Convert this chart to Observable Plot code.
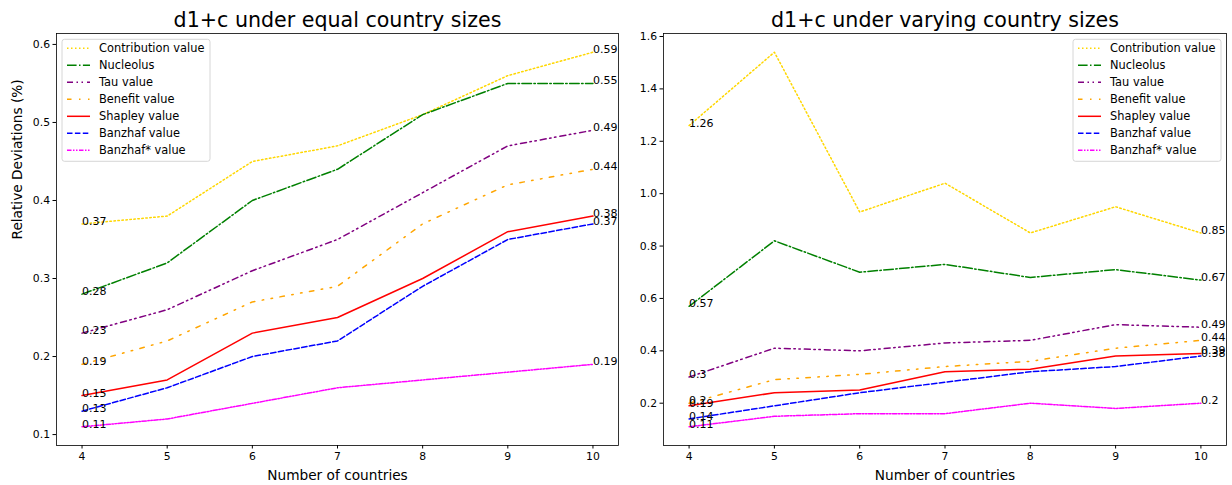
<!DOCTYPE html>
<html><head><meta charset="utf-8">
<script src="https://cdn.jsdelivr.net/npm/d3@7"></script>
<script src="https://cdn.jsdelivr.net/npm/@observablehq/plot@0.6"></script>
<style>
body{margin:0;background:#fff;}
#wrap{display:flex;width:1232px;height:485px;}
#wrap svg{font-family:"DejaVu Sans",sans-serif;display:block;}
</style></head><body><div id="wrap"></div>
<script>
const countries = [4, 5, 6, 7, 8, 9, 10];
const seriesNames = ["Contribution value", "Nucleolus", "Tau value", "Benefit value", "Shapley value", "Banzhaf value", "Banzhaf* value"];
const seriesColors = ["#FFD700", "green", "purple", "orange", "red", "blue", "magenta"];
const seriesDashes = ["1.5,2.5", "9.6,2.4,1.5,2.4", "6,3.5,1.5,3.5,1.5,4", "4.5,7.5,1.5,7.5,1.5,7.5", "none", "5.5,2.4", "4.5,1.5,1.5,1.5,1.5,1.5"];

// Panel 1: equal country sizes
const equalContribution = [0.37, 0.38, 0.45, 0.47, 0.51, 0.56, 0.59];
const equalNucleolus    = [0.28, 0.32, 0.40, 0.44, 0.51, 0.55, 0.55];
const equalTau          = [0.23, 0.26, 0.31, 0.35, 0.41, 0.47, 0.49];
const equalBenefit      = [0.19, 0.22, 0.27, 0.29, 0.37, 0.42, 0.44];
const equalShapley      = [0.15, 0.17, 0.23, 0.25, 0.30, 0.36, 0.38];
const equalBanzhaf      = [0.13, 0.16, 0.20, 0.22, 0.29, 0.35, 0.37];
const equalBanzhafStar  = [0.11, 0.12, 0.14, 0.16, 0.17, 0.18, 0.19];

// Panel 2: varying country sizes
const varyContribution = [1.26, 1.54, 0.93, 1.04, 0.85, 0.95, 0.85];
const varyNucleolus    = [0.57, 0.82, 0.70, 0.73, 0.68, 0.71, 0.67];
const varyTau          = [0.30, 0.41, 0.40, 0.43, 0.44, 0.50, 0.49];
const varyBenefit      = [0.20, 0.29, 0.31, 0.34, 0.36, 0.41, 0.44];
const varyShapley      = [0.19, 0.24, 0.25, 0.32, 0.33, 0.38, 0.39];
const varyBanzhaf      = [0.14, 0.19, 0.24, 0.28, 0.32, 0.34, 0.38];
const varyBanzhafStar  = [0.11, 0.15, 0.16, 0.16, 0.20, 0.18, 0.20];

const leftTicks = [0.1, 0.2, 0.3, 0.4, 0.5, 0.6];
const rightTicks = [0.2, 0.4, 0.6, 0.8, 1.0, 1.2, 1.4, 1.6];

const titleLeft = "d1+c under equal country sizes";
const titleRight = "d1+c under varying country sizes";
const xLabel = "Number of countries";
const yLabel = "Relative Deviations (%)";

function makeRows(seriesValues) {
  const rows = [];
  seriesValues.forEach((vals, i) => {
    vals.forEach((v, j) => rows.push({series: seriesNames[i], idx: i, x: countries[j], y: v}));
  });
  return rows;
}

function addLegend(svg, x0, y0) {
  const g = d3.select(svg).append("g").attr("text-anchor", "start");
  g.append("rect").attr("x", x0).attr("y", y0).attr("width", 148).attr("height", 122).attr("rx", 2.5)
    .attr("fill", "white").attr("fill-opacity", 0.8).attr("stroke", "#cccccc").attr("stroke-width", 0.8);
  seriesNames.forEach((name, i) => {
    const cy = y0 + 9 + i * 17;
    g.append("line").attr("x1", x0 + 5).attr("x2", x0 + 28).attr("y1", cy).attr("y2", cy)
      .attr("stroke", seriesColors[i]).attr("stroke-width", 1.5).attr("stroke-dasharray", seriesDashes[i]);
    g.append("text").attr("x", x0 + 37).attr("y", cy).attr("dy", "0.35em").attr("text-anchor", "start")
      .attr("font-size", 11.4).attr("fill", "black").text(name);
  });
}

function panel({width, marginLeft, marginRight, seriesValues, yDomain, yTicks, title, showYLabel}) {
  const rows = makeRows(seriesValues);
  const ends = rows.filter(d => d.x === countries[0] || d.x === countries[countries.length - 1]);
  const marks = [
    Plot.axisX({ticks: countries, tickSize: 3.5, tickPadding: 3, tickFormat: d => String(d), label: null, fontSize: 10.8}),
    Plot.axisY({ticks: yTicks, tickSize: 3.5, tickPadding: 3, tickFormat: d3.format(".1f"), label: null, fontSize: 10.8}),
    Plot.text([xLabel], {frameAnchor: "bottom", dy: 34, lineAnchor: "bottom", fontSize: 13.7, fill: "black"}),
    Plot.text([title], {frameAnchor: "top", dy: -7, lineAnchor: "bottom", fontSize: 20.6, fill: "black"}),
  ];
  seriesNames.forEach((name, i) => {
    marks.push(Plot.line(rows.filter(d => d.idx === i), {
      x: "x", y: "y", stroke: seriesColors[i], strokeWidth: 1.5,
      strokeDasharray: seriesDashes[i], curve: "linear"
    }));
  });
  marks.push(Plot.text(ends, {x: "x", y: "y", text: d => String(d.y), textAnchor: "start", lineAnchor: "bottom", dy: 1, fontSize: 11, fill: "black"}));
  if (showYLabel) {
    marks.push(Plot.text([yLabel], {frameAnchor: "left", rotate: -90, dx: -39, fontSize: 13.7, fill: "black"}));
  }
  marks.push(Plot.frame({stroke: "black", strokeWidth: 0.8}));
  return Plot.plot({
    width, height: 485, marginLeft, marginRight, marginTop: 33, marginBottom: 40,
    style: {fontFamily: "DejaVu Sans, sans-serif", fontSize: "10.8px", color: "black", background: "white", overflow: "visible"},
    x: {domain: [3.7, 10.3]},
    y: {domain: yDomain},
    marks
  });
}

const wrap = document.getElementById("wrap");
const left = panel({
  width: 625, marginLeft: 56, marginRight: 7,
  seriesValues: [equalContribution, equalNucleolus, equalTau, equalBenefit, equalShapley, equalBanzhaf, equalBanzhafStar],
  yDomain: [0.086, 0.614], yTicks: leftTicks, title: titleLeft, showYLabel: true
});
const right = panel({
  width: 607, marginLeft: 38, marginRight: 6,
  seriesValues: [varyContribution, varyNucleolus, varyTau, varyBenefit, varyShapley, varyBanzhaf, varyBanzhafStar],
  yDomain: [0.0385, 1.6115], yTicks: rightTicks, title: titleRight, showYLabel: false
});
wrap.appendChild(left);
wrap.appendChild(right);
addLegend(left, 62, 39.3);
addLegend(right, 448, 39.3);
</script>
</body></html>
